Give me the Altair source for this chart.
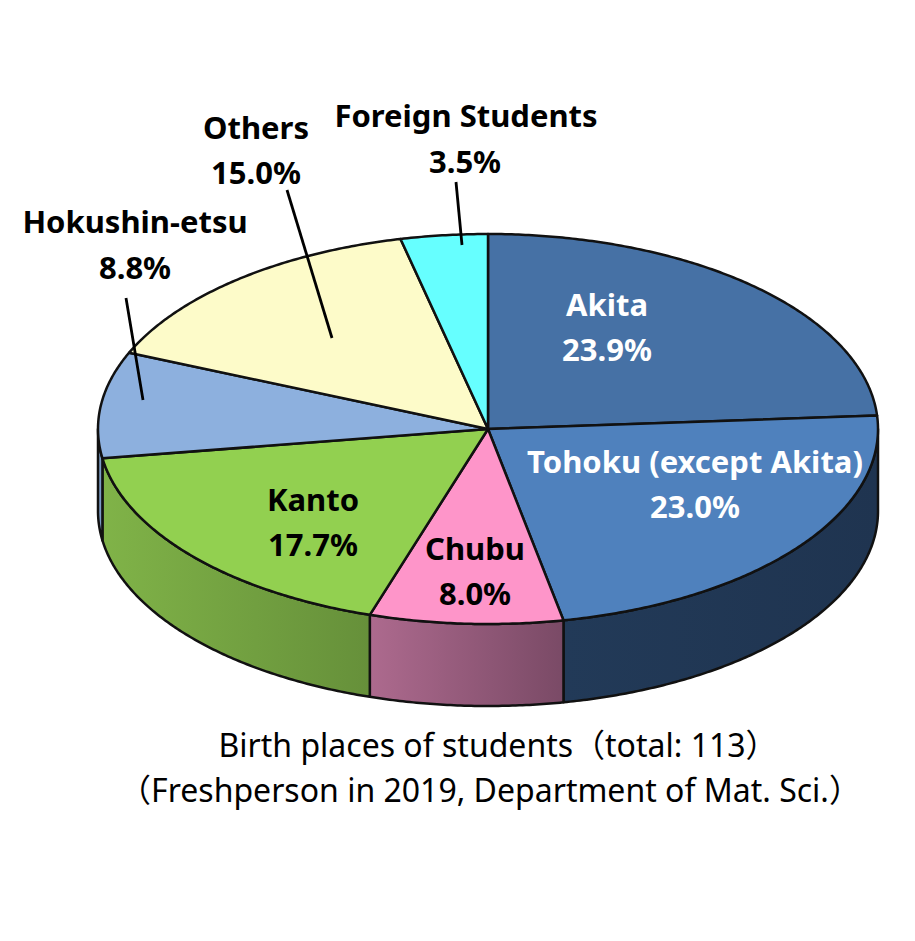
import math
import altair as alt

# Chart values
categories = ["Akita", "Tohoku (except Akita)", "Chubu", "Kanto", "Hokushin-etsu", "Others", "Foreign Students"]
shares = [23.9, 23.0, 8.0, 17.7, 8.8, 15.0, 3.5]
top_colors = ["#4671a5", "#4f81bd", "#fe95c9", "#92d050", "#8db0de", "#fdfbc9", "#66ffff"]
wall_stops = [
    ["#223a58", "#1f3450"],
    ["#223a58", "#1f3450"],
    ["#ad6a8e", "#7a4a66"],
    ["#80b348", "#66903a"],
    ["#7b9cc6", "#7b9cc6"],
    ["#ffffff", "#ffffff"],
    ["#ffffff", "#ffffff"],
]
label_text = ["Akita", "23.9%", "Tohoku (except Akita)", "23.0%", "Chubu", "8.0%", "Kanto", "17.7%",
              "Hokushin-etsu", "8.8%", "Others", "15.0%", "Foreign Students", "3.5%"]
label_x = [607, 607, 695, 695, 475, 475, 313, 313, 135, 135, 256, 256, 466, 465]
label_y = [316, 361, 473, 518, 560, 605, 511, 556, 233, 279, 139, 184, 127, 173]
label_color = ["white"] * 4 + ["black"] * 10
leader_x1 = [456, 287, 126]
leader_y1 = [182, 190, 298]
leader_x2 = [462, 332, 143]
leader_y2 = [245, 338, 400]
caption_lines = ["Birth places of students（total: 113）", "（Freshperson in 2019, Department of Mat. Sci.）"]
caption_x = [498, 490]
caption_y = [757, 802]

W, H = 899, 925
OFF = 8
CX, CY, RX, RY, DEPTH = 488 - OFF, 429 - OFF, 390, 195, 82


def pt(deg, dy=0):
    r = math.radians(deg)
    return [CX + RX * math.sin(r), CY - RY * math.cos(r) + dy]


def arc(a, b, dy=0):
    n = max(2, int(abs(b - a) * 2))
    return [pt(a + (b - a) * i / n, dy) for i in range(n + 1)]


def feature(ring, **props):
    return {"type": "Feature", "properties": props,
            "geometry": {"type": "Polygon", "coordinates": [ring + [ring[0]]]}}


proj = dict(type="identity", scale=1, translate=[0, 0])

edges = [0.0]
for s in shares:
    edges.append(edges[-1] + s * 3.6)
edges[-1] = 360.0

layers = []
# side walls (front half of the disc only)
for i, cat in enumerate(categories):
    a, b = max(edges[i], 90), min(edges[i + 1], 270)
    if b <= a:
        continue
    ring = arc(a, b) + arc(b, a, DEPTH)
    grad = alt.LinearGradient(gradient="linear", x1=0, x2=1, y1=0, y2=0,
                              stops=[alt.GradientStop(offset=0, color=wall_stops[i][0]),
                                     alt.GradientStop(offset=1, color=wall_stops[i][1])])
    layers.append(
        alt.Chart(alt.Data(values=[feature(ring, name=cat)]))
        .mark_geoshape(fill=grad, stroke="#111111", strokeWidth=2.5, strokeJoin="round")
        .project(**proj)
    )
# top wedges
wedges = [feature([[CX, CY]] + arc(edges[i], edges[i + 1]), name=c, color=top_colors[i])
          for i, c in enumerate(categories)]
layers.append(
    alt.Chart(alt.Data(values=wedges))
    .mark_geoshape(stroke="#111111", strokeWidth=2.5, strokeJoin="round")
    .encode(fill=alt.Fill("properties.color:N", scale=None))
    .project(**proj)
)

xs = alt.Scale(domain=[OFF, W + OFF], range=[0, W])
ys = alt.Scale(domain=[OFF, H + OFF], range=[0, H])

# leader lines
leaders = [{"x": a, "y": b, "x2": c, "y2": d} for a, b, c, d in zip(leader_x1, leader_y1, leader_x2, leader_y2)]
layers.append(
    alt.Chart(alt.Data(values=leaders))
    .mark_rule(color="#000000", strokeWidth=2.8)
    .encode(x=alt.X("x:Q", scale=xs, axis=None), y=alt.Y("y:Q", scale=ys, axis=None), x2="x2:Q", y2="y2:Q")
)
# wedge labels
labels = [{"t": t, "x": x, "y": y, "c": c} for t, x, y, c in zip(label_text, label_x, label_y, label_color)]
layers.append(
    alt.Chart(alt.Data(values=labels))
    .mark_text(font="Noto Sans", fontWeight="bold", fontSize=31, align="center", baseline="alphabetic")
    .encode(x=alt.X("x:Q", scale=xs, axis=None), y=alt.Y("y:Q", scale=ys, axis=None),
            text="t:N", color=alt.Color("c:N", scale=None))
)
# caption
caps = [{"t": t, "x": x, "y": y} for t, x, y in zip(caption_lines, caption_x, caption_y)]
layers.append(
    alt.Chart(alt.Data(values=caps))
    .mark_text(font="Noto Sans, Noto Sans CJK JP", fontSize=32, align="center", baseline="alphabetic", color="black")
    .encode(x=alt.X("x:Q", scale=xs, axis=None), y=alt.Y("y:Q", scale=ys, axis=None), text="t:N")
)

chart = (
    alt.layer(*layers)
    .resolve_scale(x="shared", y="shared")
    .properties(width=W, height=H, padding=0, background="white", autosize=alt.AutoSizeParams(type="none"))
    .configure_view(stroke=None)
)
chart.save("out.html", embed_options={"renderer": "svg", "actions": False})
